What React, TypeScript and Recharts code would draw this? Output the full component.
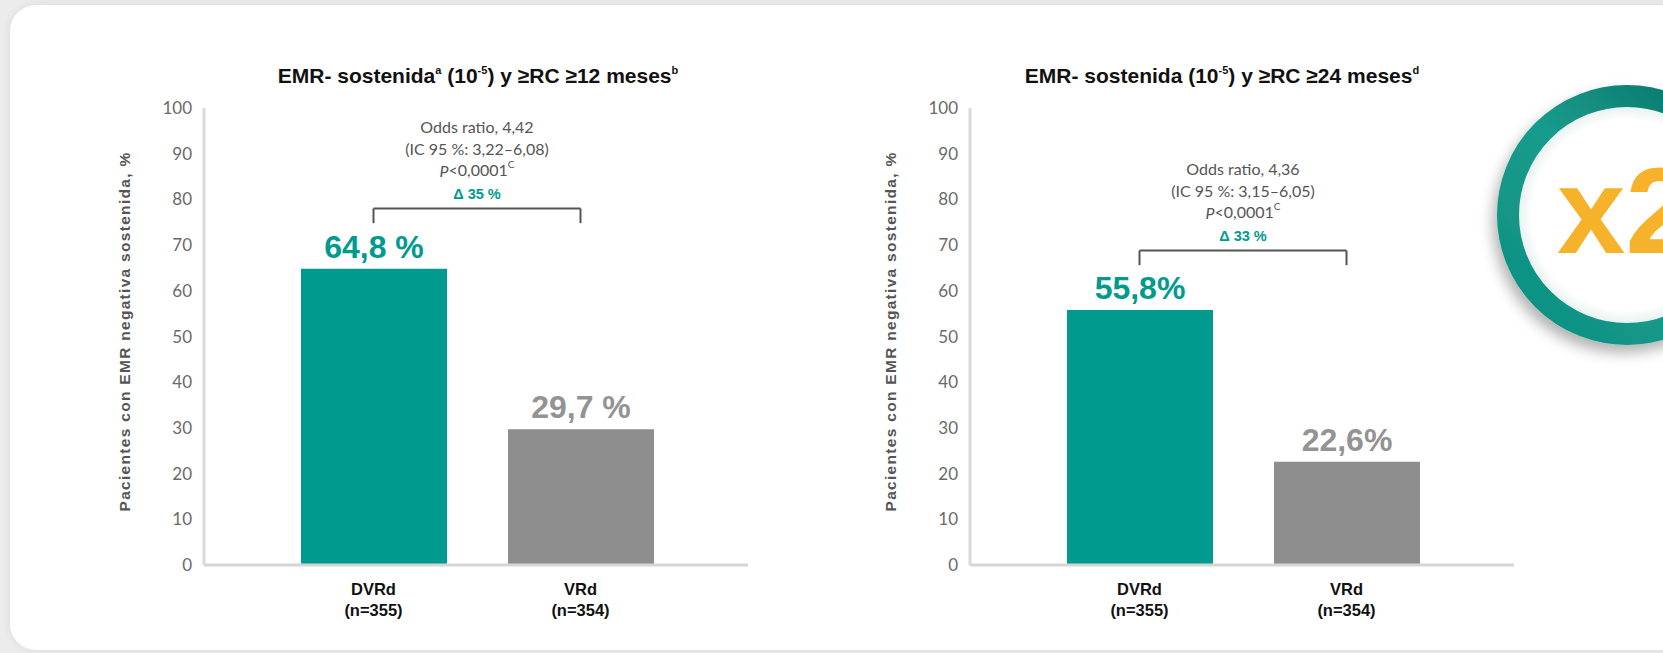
import React from 'react';
import { BarChart, Bar, XAxis, YAxis, Cell, LabelList, ReferenceLine } from 'recharts';

// ---- data ----
const categories = ['DVRd', 'VRd'];
const groupSizes = ['(n=355)', '(n=354)'];
const values12m = [64.8, 29.7];
const values24m = [55.8, 22.6];
const valueLabels12m = ['64,8 %', '29,7 %'];
const valueLabels24m = ['55,8%', '22,6%'];
const yTicks = [0, 10, 20, 30, 40, 50, 60, 70, 80, 90, 100];
const odds12m = ['Odds ratio, 4,42', '(IC 95 %: 3,22–6,08)', '<0,0001', 'Δ 35 %'];
const odds24m = ['Odds ratio, 4,36', '(IC 95 %: 3,15–6,05)', '<0,0001', 'Δ 33 %'];
const bracket12m = [78, 74.8];
const bracket24m = [68.8, 65.6];
const yAxisTitle = 'Pacientes con EMR negativa sostenida, %';

const TEAL = '#009B8E';
const GREY = '#8E8E8E';
const barColors = [TEAL, GREY];
const labelColors = [TEAL, '#939393'];
const SANS = '"Liberation Sans", Arial, sans-serif';
const LIGHT = 'Lato, "Open Sans", sans-serif';

const XTick = (props: any) => {
  const { x, y, payload } = props;
  const idx = categories.indexOf(payload.value);
  return (
    <g>
      <text x={x} y={y + 22} textAnchor="middle" fontFamily={SANS} fontWeight="bold" fontSize={16.5} fill="#111">
        {payload.value}
      </text>
      <text x={x} y={y + 43} textAnchor="middle" fontFamily={SANS} fontWeight="bold" fontSize={16.5} fill="#111">
        {groupSizes[idx]}
      </text>
    </g>
  );
};

const YTitle = (props: any) => {
  const vb = props.viewBox || {};
  const cx = vb.x - 20;
  const cy = vb.y + vb.height / 2 - 5;
  return (
    <text x={cx} y={cy} transform={`rotate(-90 ${cx} ${cy})`} textAnchor="middle" dominantBaseline="central"
      fontFamily={SANS} fontWeight="bold" fontSize={15.5} letterSpacing={1.3} fill="#555">
      {yAxisTitle}
    </text>
  );
};

const makeValueLabel = (labels: string[], fontSize: number) => (props: any) => {
  const { x, y, width, index } = props;
  return (
    <text x={x + width / 2} y={y - 11} textAnchor="middle" fontFamily={SANS} fontWeight="bold"
      fontSize={fontSize} fill={labelColors[index]}>
      {labels[index]}
    </text>
  );
};

const makeAnnot = (lines: string[]) => (props: any) => {
  const vb = props.viewBox || {};
  const cx = vb.x + (vb.width || 0) / 2;
  const by = vb.y;
  return (
    <g fontFamily={LIGHT} fontSize={16} fill="#555" textAnchor="middle">
      <text x={cx} y={by - 82} dominantBaseline="central">{lines[0]}</text>
      <text x={cx} y={by - 60} dominantBaseline="central">{lines[1]}</text>
      <text x={cx} y={by - 39} dominantBaseline="central">
        <tspan fontStyle="italic">P</tspan>{lines[2]}<tspan dy={-6} fontSize={10}>C</tspan>
      </text>
      <text x={cx} y={by - 15} dominantBaseline="central" fill={TEAL} fontFamily={SANS} fontWeight="bold" fontSize={14.5}>{lines[3]}</text>
    </g>
  );
};

function Panel(props: { values: number[]; labels: string[]; annot: string[]; bracket: number[]; labelSize: number }) {
  const data = categories.map((c, i) => ({ name: c, value: props.values[i] }));
  const [top, bottom] = props.bracket;
  return (
    <BarChart width={760} height={653} data={data} margin={{ top: 108, right: 12, bottom: 28, left: 144 }}>
      <XAxis dataKey="name" interval={0} padding={{ left: 66, right: 64 }} height={60}
        axisLine={{ stroke: '#D6D6D6', strokeWidth: 3 }} tickLine={false} tick={<XTick />} />
      <YAxis domain={[0, 100]} ticks={yTicks} width={60} interval={0} tickLine={false} tickMargin={6}
        axisLine={{ stroke: '#DADADA', strokeWidth: 3 }}
        tick={{ fill: '#6a6a6a', fontSize: 17, fontFamily: LIGHT }} label={<YTitle />} />
      <Bar dataKey="value" barSize={146} isAnimationActive={false}>
        {data.map((d, i) => <Cell key={i} fill={barColors[i]} />)}
        <LabelList dataKey="value" content={makeValueLabel(props.labels, props.labelSize)} />
      </Bar>
      <ReferenceLine segment={[{ x: categories[0], y: top }, { x: categories[1], y: top }]} stroke="#555" strokeWidth={2}
        ifOverflow="visible" label={makeAnnot(props.annot)} />
      <ReferenceLine segment={[{ x: categories[0], y: top }, { x: categories[0], y: bottom }]} stroke="#555" strokeWidth={2} ifOverflow="visible" />
      <ReferenceLine segment={[{ x: categories[1], y: top }, { x: categories[1], y: bottom }]} stroke="#555" strokeWidth={2} ifOverflow="visible" />
    </BarChart>
  );
}

const Title = (props: { left: number; children: React.ReactNode }) => (
  <div style={{ position: 'absolute', left: props.left, top: 62, width: 0, display: 'flex', justifyContent: 'center' }}>
    <div style={{ whiteSpace: 'nowrap', fontFamily: SANS, fontWeight: 'bold', fontSize: 21, lineHeight: '28px', color: '#111' }}>
      {props.children}
    </div>
  </div>
);

const sup: React.CSSProperties = { fontSize: 11, verticalAlign: 'top', lineHeight: '16px', position: 'relative', top: 0 };

export default function App() {
  return (
    <div style={{ position: 'absolute', left: 0, top: 0, width: 1663, height: 653, overflow: 'hidden', background: '#ECECEC' }}>
      <div style={{ position: 'absolute', left: 10, top: 5, width: 1720, height: 645, borderRadius: 26, background: '#fff', boxShadow: '0 0 10px rgba(0,0,0,0.07)' }} />
      <div style={{ position: 'absolute', left: 0, top: 0 }}>
        <Panel values={values12m} labels={valueLabels12m} annot={odds12m} bracket={bracket12m} labelSize={32} />
      </div>
      <div style={{ position: 'absolute', left: 766, top: 0 }}>
        <Panel values={values24m} labels={valueLabels24m} annot={odds24m} bracket={bracket24m} labelSize={32} />
      </div>
      <Title left={478}>
        EMR- sostenida<span style={sup}>a</span> (10<span style={sup}>-5</span>) y ≥RC ≥12 meses<span style={sup}>b</span>
      </Title>
      <Title left={1222}>
        EMR- sostenida (10<span style={sup}>-5</span>) y ≥RC ≥24 meses<span style={sup}>d</span>
      </Title>
      <svg width={1663} height={653} style={{ position: 'absolute', left: 0, top: 0, pointerEvents: 'none' }}>
        <defs>
          <linearGradient id="ring" x1="0" y1="1" x2="1" y2="0">
            <stop offset="0" stopColor="#0E8F80" />
            <stop offset="0.5" stopColor="#169C8C" />
            <stop offset="1" stopColor="#0B6F64" />
          </linearGradient>
          <radialGradient id="inner" cx="0.5" cy="0.5" r="0.5">
            <stop offset="0.8" stopColor="#FFFFFF" />
            <stop offset="1" stopColor="#D5E6E3" />
          </radialGradient>
          <filter id="sh" x="-30%" y="-30%" width="160%" height="160%">
            <feDropShadow dx="-4" dy="8" stdDeviation="7" floodColor="#000" floodOpacity="0.3" />
          </filter>
        </defs>
        <circle cx={1627} cy={215} r={119} fill="url(#inner)" stroke="url(#ring)" strokeWidth={22} filter="url(#sh)" />
        <text x={1557} y={253} fontFamily={SANS} fontWeight="bold" fontSize={123} fill="#F5B22A">x2</text>
      </svg>
    </div>
  );
}
